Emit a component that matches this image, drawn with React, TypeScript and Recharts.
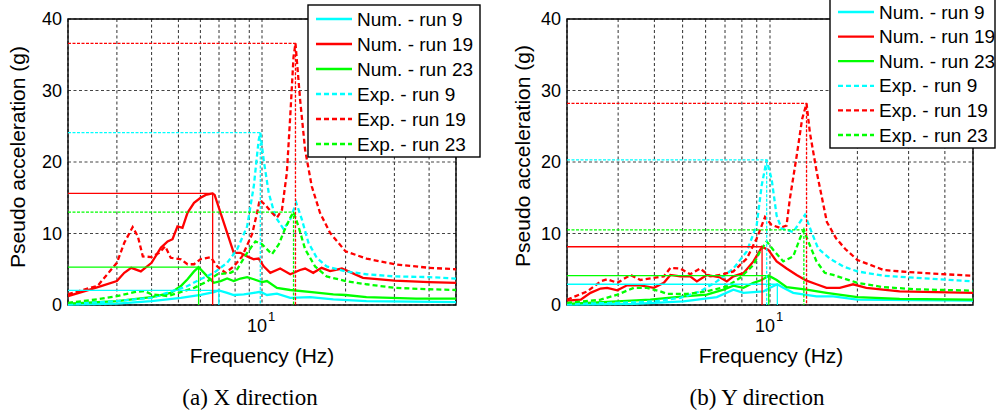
import React from 'react';
import { LineChart, Line, XAxis, YAxis, CartesianGrid, ReferenceArea } from 'recharts';

// ---------- series meta ----------
const SERIES_NAMES = ['Num. - run 9', 'Num. - run 19', 'Num. - run 23', 'Exp. - run 9', 'Exp. - run 19', 'Exp. - run 23'];
const SERIES_COLORS = ['#00ffff', '#ff0000', '#00ff00', '#00ffff', '#ff0000', '#00ff00'];
const SERIES_DASHED = [false, false, false, true, true, true];

// ---------- (a) X direction : [frequency Hz, pseudo acceleration g] ----------
const X_NUM9 = [[2, 0.05], [3, 0.2], [4, 0.55], [5.1, 1.0], [6.01, 1.4], [6.71, 1.8], [6.99, 2.05], [7.49, 1.7], [7.91, 1.4], [8.6, 1.5], [9.34, 1.7], [9.86, 1.85], [10.42, 1.4], [11.32, 1.6], [12.64, 1.0], [14.9, 1.1], [18.07, 0.8], [23.78, 0.55], [50, 0.4]];
const X_NUM19 = [[2, 1.25], [2.3, 1.95], [2.63, 2.65], [3, 3.35], [3.19, 4.5], [3.38, 5.2], [3.66, 4.7], [4, 5.9], [4.32, 8.0], [4.57, 8.9], [4.76, 9.2], [4.96, 11.0], [5.17, 10.8], [5.39, 12.9], [5.69, 14.3], [6.01, 15.0], [6.27, 15.4], [6.64, 15.6], [6.75, 15.4], [7.09, 12.9], [7.49, 10.1], [7.91, 7.3], [8.36, 7.3], [8.84, 6.8], [9.34, 6.4], [9.73, 6.5], [10.14, 5.4], [10.71, 4.5], [11.63, 5.1], [12.64, 4.3], [13.72, 4.9], [14.3, 5.1], [15.3, 4.5], [16.4, 5.2], [17.6, 4.75], [19.4, 5.1], [20.5, 4.7], [23.1, 3.8], [30, 3.4], [40, 3.2], [50, 3.1]];
const X_NUM23 = [[2, 0.2], [3, 0.55], [4, 1.1], [4.69, 1.7], [5.1, 2.65], [5.39, 3.6], [5.69, 4.7], [5.91, 5.3], [6.35, 4.0], [6.71, 3.1], [7.09, 3.35], [7.49, 3.7], [7.91, 3.35], [8.36, 3.7], [8.84, 3.9], [9.34, 3.6], [10, 3.2], [10.42, 3.35], [11.32, 2.4], [12.64, 2.1], [15.11, 1.8], [18.07, 1.5], [20, 1.4], [23.78, 1.1], [35.9, 0.9], [50, 0.9]];
const X_EXP9 = [[2, 0.1], [3, 0.55], [4, 1.0], [5, 2.2], [5.39, 2.65], [6.0, 3.6], [6.71, 4.5], [7.49, 5.9], [8.14, 7.8], [8.84, 11], [9.34, 16.6], [9.73, 23.1], [9.86, 24.1], [10.14, 20.3], [10.57, 15.7], [11.16, 12.4], [11.96, 10.6], [12.64, 12], [13.28, 14.3], [13.91, 12], [14.7, 8.7], [15.75, 6.6], [17.1, 5.4], [20, 4.7], [23.78, 4.3], [30, 4.0], [40, 3.9], [50, 3.7]];
const X_EXP19 = [[2, 1.5], [2.56, 2.7], [3.0, 5.9], [3.19, 8.7], [3.42, 10.9], [3.57, 9.6], [3.72, 6.8], [4.0, 6.7], [4.26, 7.3], [4.48, 8.2], [4.69, 6.6], [5.1, 6.4], [5.39, 5.7], [5.69, 5.7], [6.0, 6.4], [6.53, 6.7], [6.9, 5.4], [7.39, 4.5], [7.91, 5.4], [8.48, 6.8], [9.21, 9.9], [9.6, 12.9], [9.81, 14.7], [10.28, 14.0], [10.86, 12.9], [11.32, 12.2], [11.8, 13.3], [12.29, 18.5], [12.64, 26.4], [12.99, 34.7], [13.2, 36.6], [13.72, 28.7], [14.3, 21.7], [15.11, 16.6], [16.18, 12.9], [17.58, 10.1], [20, 7.5], [23.78, 6.5], [30, 5.7], [40, 5.2], [50, 5.0]];
const X_EXP23 = [[2, 0.3], [2.56, 0.8], [3, 1.25], [3.47, 1.8], [3.77, 1.95], [4, 1.5], [4.57, 1.25], [5, 1.7], [5.69, 2.4], [6.35, 3.3], [6.9, 4.3], [7.7, 4.5], [8.14, 5.0], [8.84, 7.3], [9.47, 8.9], [10, 8.5], [10.86, 7.1], [11.5, 8.5], [12.0, 10.3], [12.64, 12.2], [12.99, 13.0], [13.53, 11], [14.3, 7.8], [15.53, 5.4], [17.1, 4], [20, 3.35], [23.78, 2.9], [30, 2.4], [40, 2.2], [50, 2.1]];
const X_PEAK_F = [6.99, 6.64, 5.91, 9.86, 13.2, 12.99];
const X_PEAK_V = [2.05, 15.6, 5.3, 24.1, 36.6, 13.0];

// ---------- (b) Y direction ----------
const Y_NUM9 = [[2, 0.05], [3.4, 0.15], [5.04, 0.5], [6.56, 1.1], [7.48, 2.15], [8.1, 1.7], [8.77, 1.8], [9.49, 1.9], [10, 2.4], [10.6, 2.9], [11.11, 2.4], [12.02, 1.7], [14.46, 1.2], [16.5, 1.2], [20, 0.75], [50, 0.6]];
const Y_NUM19 = [[2, 0.6], [2.23, 0.75], [2.41, 1.7], [2.61, 2.3], [2.75, 2.4], [2.98, 2.05], [3.22, 2.75], [3.58, 2.75], [3.98, 2.4], [4.31, 3.1], [4.54, 4.2], [4.91, 4.0], [5.31, 4.0], [5.6, 3.3], [6.06, 4.2], [6.74, 3.85], [7.1, 3.3], [7.48, 4.0], [8.1, 4.45], [8.77, 6.1], [9.39, 8.15], [9.87, 7.7], [10.54, 6.1], [11.41, 5.1], [12.35, 4.2], [13.36, 3.4], [14.46, 2.9], [15.65, 2.4], [17.39, 2.4], [19.32, 2.9], [21.47, 2.4], [27.94, 1.9], [50, 1.7]];
const Y_NUM23 = [[2, 0.15], [2.98, 0.5], [3.87, 0.75], [5.04, 1.2], [6.06, 1.45], [6.92, 2.15], [7.48, 2.7], [8.1, 2.4], [8.77, 3.1], [9.36, 3.5], [9.9, 4.1], [10.54, 3.5], [11.41, 2.5], [13.36, 2.15], [15.65, 1.7], [20, 1.1], [27.94, 0.85], [50, 0.75]];
const Y_EXP9 = [[2, 0.15], [2.98, 0.3], [3.98, 0.5], [4.91, 1.0], [5.75, 1.9], [6.56, 3.3], [7.48, 5.1], [8.32, 7.5], [9.0, 11.2], [9.36, 16.7], [9.74, 20.3], [10.13, 17.6], [10.54, 12.5], [10.96, 10.7], [12.02, 10.2], [12.68, 11.6], [13.19, 12.6], [13.9, 10.2], [14.65, 7.9], [16.06, 6.5], [17.85, 5.4], [20, 4.7], [24.49, 4.1], [31.87, 3.8], [50, 3.3]];
const Y_EXP19 = [[2, 0.75], [2.35, 1.9], [2.61, 3.3], [2.75, 3.6], [2.98, 3.1], [3.31, 4.2], [3.58, 3.5], [3.98, 3.8], [4.31, 4.0], [4.54, 5.2], [4.91, 5.1], [5.31, 4.3], [5.75, 5.1], [6.22, 4.0], [6.74, 4.2], [7.48, 4.7], [8.32, 6.5], [9.0, 9.3], [9.61, 12.3], [10.13, 11.2], [10.82, 10.8], [11.4, 11.1], [11.7, 14.8], [12.35, 20.8], [12.9, 26.0], [13.36, 28.2], [13.72, 24.1], [14.5, 18.5], [15.7, 11.6], [16.9, 9.3], [18.2, 7.8], [20, 6.3], [24.6, 4.9], [30, 4.6], [40, 4.3], [50, 4.1]];
const Y_EXP23 = [[2, 0.3], [2.61, 0.75], [2.98, 1.45], [3.4, 2.4], [3.77, 2.4], [4.19, 1.9], [4.42, 1.55], [5.18, 1.55], [6.06, 1.9], [7.1, 2.6], [7.89, 3.8], [8.77, 5.6], [9.24, 7.5], [9.74, 8.9], [10.27, 7.7], [11.11, 6.1], [12.02, 6.8], [12.68, 9.3], [13.08, 10.5], [13.54, 8.9], [14.46, 6.1], [15.44, 4.5], [16.5, 4.2], [20, 3.1], [24.49, 2.5], [31.87, 2.2], [50, 2.0]];
const Y_PEAK_F = [10.6, 9.39, 9.9, 9.74, 13.36, 13.08];
const Y_PEAK_V = [2.9, 8.15, 4.1, 20.3, 28.2, 10.5];

// ---------- axes ----------
const F_DOMAIN = [2, 50];
const A_DOMAIN = [0, 40];
const X_TICKS = [3, 4, 5, 6, 7, 8, 9, 10, 20, 30, 40];
const Y_TICKS = [0, 10, 20, 30, 40];

const SANS = 'Liberation Sans, Arial, Helvetica, sans-serif';
const SERIF = 'Liberation Serif, Times New Roman, serif';

const toPts = (arr: number[][]) => arr.map(([f, v]) => ({ f, v }));
const peakPts = (f: number, v: number) => [
  { f: F_DOMAIN[0], v },
  { f, v },
  { f, v: 0 },
];

const FreqTick = (props: any) => {
  const { x, y, payload } = props;
  if (payload.value !== 10) return <g />;
  return (
    <g>
      <text x={x + 5} y={y + 27} textAnchor="end" fontSize={18} fontFamily={SANS} fill="#000">10</text>
      <text x={x + 6} y={y + 16} fontSize={13} fontFamily={SANS} fill="#000">1</text>
    </g>
  );
};

type PanelProps = {
  left: number;
  width: number;
  yAxisWidth: number;
  marginRight: number;
  series: number[][][];
  peakF: number[];
  peakV: number[];
};

const Panel = ({ left, width, yAxisWidth, marginRight, series, peakF, peakV }: PanelProps) => (
  <div style={{ position: 'absolute', left, top: 0, width, height: 340 }}>
    <LineChart width={width} height={340} margin={{ top: 19, right: marginRight, left: 0, bottom: 4 }}>
      <CartesianGrid stroke="#444" strokeDasharray="3 2.5" strokeWidth={1.1} />
      <XAxis
        dataKey="f"
        type="number"
        scale="log"
        domain={F_DOMAIN}
        allowDataOverflow
        ticks={X_TICKS}
        interval={0}
        tick={<FreqTick />}
        tickLine={false}
        axisLine={false}
        tickSize={0}
        tickMargin={0}
        height={31}
      />
      <YAxis
        type="number"
        domain={A_DOMAIN}
        ticks={Y_TICKS}
        interval={0}
        width={yAxisWidth}
        tickLine={false}
        axisLine={false}
        tickSize={0}
        tickMargin={6}
        tick={{ fontSize: 18, fill: '#000', fontFamily: SANS }}
      />
      {series.map((s, i) => (
        <Line
          key={'s' + i}
          data={toPts(s)}
          dataKey="v"
          type="linear"
          stroke={SERIES_COLORS[i]}
          strokeWidth={2.3}
          strokeDasharray={SERIES_DASHED[i] ? '5 3' : undefined}
          dot={false}
          activeDot={false}
          isAnimationActive={false}
        />
      ))}
      {peakF.map((f, i) => (
        <Line
          key={'p' + i}
          data={peakPts(f, peakV[i])}
          dataKey="v"
          type="linear"
          stroke={SERIES_COLORS[i]}
          strokeWidth={1.3}
          strokeDasharray={SERIES_DASHED[i] ? '3 1.5' : undefined}
          dot={false}
          activeDot={false}
          isAnimationActive={false}
        />
      ))}
      <ReferenceArea x1={F_DOMAIN[0]} x2={F_DOMAIN[1]} y1={A_DOMAIN[0]} y2={A_DOMAIN[1]} fill="none" stroke="#000" strokeWidth={1.4} ifOverflow="visible" />
    </LineChart>
  </div>
);

const LegendBox = ({ x, y, w, h, rowY, step, lineX }: { x: number; y: number; w: number; h: number; rowY: number; step: number; lineX: number }) => (
  <g>
    <rect x={x} y={y} width={w} height={h} fill="#fff" stroke="#000" strokeWidth={1.4} />
    {SERIES_NAMES.map((n, i) => (
      <g key={n}>
        <line
          x1={lineX}
          x2={lineX + 36}
          y1={rowY + i * step}
          y2={rowY + i * step}
          stroke={SERIES_COLORS[i]}
          strokeWidth={2.3}
          strokeDasharray={SERIES_DASHED[i] ? '5 3' : undefined}
        />
        <text x={lineX + 41} y={rowY + i * step} dy="0.35em" fontSize={19} fontFamily={SANS} fill="#000">{n}</text>
      </g>
    ))}
  </g>
);

export default function App() {
  return (
    <div style={{ position: 'absolute', left: 0, top: 0, width: 996, height: 417, background: '#fff', overflow: 'hidden' }}>
      <Panel left={0} width={500} yAxisWidth={68} marginRight={44} series={[X_NUM9, X_NUM19, X_NUM23, X_EXP9, X_EXP19, X_EXP23]} peakF={X_PEAK_F} peakV={X_PEAK_V} />
      <Panel left={500} width={496} yAxisWidth={67} marginRight={23} series={[Y_NUM9, Y_NUM19, Y_NUM23, Y_EXP9, Y_EXP19, Y_EXP23]} peakF={Y_PEAK_F} peakV={Y_PEAK_V} />
      <svg width={996} height={417} style={{ position: 'absolute', left: 0, top: 0, pointerEvents: 'none' }}>
        <LegendBox x={308} y={5} w={172} h={152} rowY={19} step={25} lineX={316} />
        <LegendBox x={830} y={-5} w={165} h={153} rowY={12} step={24.6} lineX={838} />
        <text x={262} y={363} textAnchor="middle" fontSize={21} fontFamily={SANS} fill="#000">Frequency (Hz)</text>
        <text x={771} y={363} textAnchor="middle" fontSize={21} fontFamily={SANS} fill="#000">Frequency (Hz)</text>
        <text transform="translate(25,157) rotate(-90)" textAnchor="middle" fontSize={21} fontFamily={SANS} fill="#000">Pseudo acceleration (g)</text>
        <text transform="translate(530,156) rotate(-90)" textAnchor="middle" fontSize={21} fontFamily={SANS} fill="#000">Pseudo acceleration (g)</text>
        <text x={250} y={405} textAnchor="middle" fontSize={23} fontFamily={SERIF} fill="#000">(a) X direction</text>
        <text x={757} y={405} textAnchor="middle" fontSize={23} fontFamily={SERIF} fill="#000">(b) Y direction</text>
      </svg>
    </div>
  );
}
